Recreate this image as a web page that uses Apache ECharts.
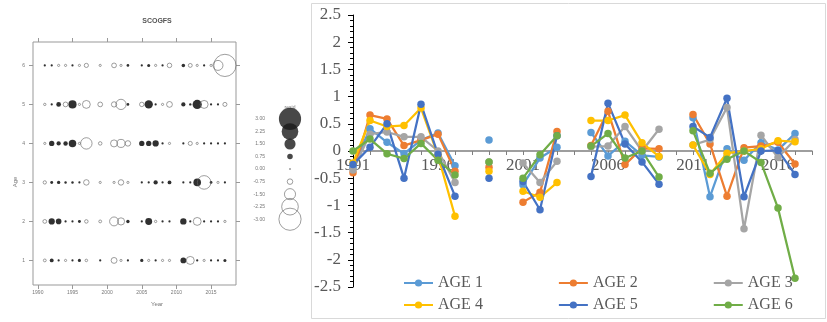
<!DOCTYPE html>
<html><head><meta charset="utf-8">
<script src="https://cdn.jsdelivr.net/npm/echarts@6/dist/echarts.min.js"></script>
<style>html,body{margin:0;padding:0;background:#fff}#c{width:827px;height:322px}</style>
</head><body><div id="c"></div>
<script>
// ---- data ----
const years = ['1991','1992','1993','1994','1995','1996','1997','1998','1999','2000','2001','2002','2003','2004','2005','2006','2007','2008','2009','2010','2011','2012','2013','2014','2015','2016','2017','2018'];
const age1 = [-0.30,0.41,0.16,-0.05,0.20,0.33,-0.27,null,0.20,null,-0.62,-0.13,0.07,null,0.34,-0.09,0.18,-0.08,-0.11,null,0.61,-0.84,0.04,-0.17,0.15,0.02,0.32];
const age2 = [-0.40,0.66,0.59,0.10,0.20,0.31,-0.37,null,-0.30,null,-0.94,-0.76,0.36,null,0.10,0.73,-0.25,0.05,0.04,null,0.67,0.13,-0.83,0.06,0.09,0.16,-0.24];
const age3 = [-0.35,0.31,0.35,0.26,0.26,0.00,-0.58,null,-0.20,null,-0.22,-0.58,-0.19,null,0.08,0.09,0.45,0.00,0.40,null,0.11,0.21,0.80,-1.43,0.29,-0.12,0.21];
const age4 = [-0.22,0.56,0.45,0.47,0.79,-0.08,-1.20,null,-0.37,null,-0.74,-0.85,-0.58,null,0.56,0.56,0.66,0.15,-0.10,null,0.11,-0.43,-0.04,0.00,0.04,0.19,0.17];
const age5 = [-0.25,0.07,0.50,-0.50,0.86,-0.06,-0.83,null,-0.50,null,-0.56,-1.08,0.28,null,-0.47,0.88,0.13,-0.20,-0.61,null,0.45,0.25,0.97,-0.84,0.00,0.01,-0.43];
const age6 = [0.00,0.22,-0.05,-0.14,0.14,-0.17,-0.44,null,-0.20,null,-0.50,-0.07,0.28,null,0.09,0.32,-0.13,0.00,-0.48,null,0.37,-0.41,-0.15,0.00,-0.21,-1.05,-2.34];
const seriesNames = ['AGE 1','AGE 2','AGE 3','AGE 4','AGE 5','AGE 6'];
const bubbleYearTicks = [1990,1995,2000,2005,2010,2015];
const ageTicks = [1,2,3,4,5,6];
const bubbleLegendVals = [3.00,2.25,1.50,0.75,0.00,-0.75,-1.50,-2.25,-3.00];

// ---- build ----
const all = [age1,age2,age3,age4,age5,age6];
const colors = ['#5B9BD5','#ED7D31','#A5A5A5','#FFC000','#4472C4','#70AD47'];
const pos = [], neg = [];
all.forEach((arr, a) => {
  arr.forEach((v, j) => {
    if (v === null) return;
    const p = [Number(years[j]), a + 1, v];
    if (v >= 0) pos.push(p); else neg.push(p);
  });
});
const legPos = bubbleLegendVals.filter(v => v >= 0).map(v => [0, v]);
const legNeg = bubbleLegendVals.filter(v => v < 0).map(v => [0, v]);
const bsize = d => Math.max(2.2, 9.5 * Math.abs(d[2]));
const lsize = d => Math.max(1.5, 7.4 * Math.abs(d[1]));
const serif = 'Liberation Serif';
const smallTxt = { fontFamily: 'Liberation Sans', fontSize: 5, color: '#777' };

const chart = echarts.init(document.getElementById('c'));
chart.setOption({
  animation: false,
  backgroundColor: '#fff',
  graphic: [
    { type: 'rect', shape: { x: 311.5, y: 3.5, width: 514, height: 315 }, style: { fill: 'none', stroke: '#d9d9d9', lineWidth: 1 }, silent: true },
    { type: 'text', x: 157, y: 21, style: { text: 'SCOGFS', font: 'bold 7px Liberation Sans', fill: '#555', align: 'center', verticalAlign: 'middle' } },
    { type: 'text', x: 157, y: 304, style: { text: 'Year', font: '6px Liberation Sans', fill: '#777', align: 'center', verticalAlign: 'middle' } },
    { type: 'text', x: 15, y: 182, rotation: Math.PI / 2, style: { text: 'Age', font: '6px Liberation Sans', fill: '#777', align: 'center', verticalAlign: 'middle' } },
    { type: 'text', x: 290, y: 108, style: { text: 'resid', font: '5px Liberation Sans', fill: '#777', align: 'center', verticalAlign: 'middle' } }
  ],
  grid: [
    { left: 33, top: 42, width: 203, height: 243, show: true, borderColor: '#999', borderWidth: 1, backgroundColor: 'transparent', outerBoundsMode: 'none' },
    { left: 353, top: 15, width: 459, height: 272, outerBoundsMode: 'none' },
    { left: 285, top: 110.6, width: 10, height: 117, outerBoundsMode: 'none' }
  ],
  xAxis: [
    { gridIndex: 0, type: 'value', min: 1989.3, max: 2018.6, axisLine: { show: false }, splitLine: { show: false },
      axisTick: { show: true, customValues: bubbleYearTicks, length: 4, lineStyle: { color: '#999' } },
      axisLabel: { customValues: bubbleYearTicks, formatter: v => String(v), margin: 5, ...smallTxt } },
    { gridIndex: 0, type: 'value', position: 'top', min: 1989.3, max: 2018.6, axisLine: { show: false }, splitLine: { show: false },
      axisTick: { show: true, customValues: bubbleYearTicks, length: 4, lineStyle: { color: '#999' } },
      axisLabel: { show: false } },
    { gridIndex: 1, type: 'category', data: years, boundaryGap: false, position: 'bottom', offset: -136,
      axisLine: { onZero: false, lineStyle: { color: '#7f7f7f', width: 1.5 } },
      axisTick: { show: true, interval: 0, length: 4, lineStyle: { color: '#7f7f7f' } },
      axisLabel: { interval: 4, margin: 6, fontFamily: serif, fontSize: 17, color: '#595959' },
      splitLine: { show: false } },
    { gridIndex: 2, type: 'category', data: ['k'], show: false }
  ],
  yAxis: [
    { gridIndex: 0, type: 'value', min: 0.37, max: 6.6, axisLine: { show: false }, splitLine: { show: false },
      axisTick: { show: true, customValues: ageTicks, length: 4, lineStyle: { color: '#999' } },
      axisLabel: { customValues: ageTicks, margin: 8, ...smallTxt } },
    { gridIndex: 0, type: 'value', position: 'right', min: 0.37, max: 6.6, axisLine: { show: false }, splitLine: { show: false },
      axisTick: { show: true, customValues: ageTicks, length: 4, lineStyle: { color: '#999' } },
      axisLabel: { show: false } },
    { gridIndex: 1, type: 'value', min: -2.5, max: 2.5, interval: 0.5, position: 'left',
      axisLine: { show: true, onZero: false, lineStyle: { color: '#000', width: 1 } },
      axisTick: { show: true, length: 5, lineStyle: { color: '#000' } },
      minorTick: { show: true, splitNumber: 5, length: 3, lineStyle: { color: '#000' } },
      splitLine: { show: false },
      axisLabel: { margin: 12, fontFamily: serif, fontSize: 17, color: '#595959' } },
    { gridIndex: 2, type: 'value', min: -3.5, max: 3.5, axisLine: { show: false }, axisTick: { show: false }, splitLine: { show: false },
      axisLabel: { customValues: bubbleLegendVals, formatter: v => v.toFixed(2), margin: 20, ...smallTxt } }
  ],
  legend: [
    { data: seriesNames.slice(0, 3), left: 398, top: 270, itemWidth: 29, itemHeight: 9, itemGap: 75,
      textStyle: { fontFamily: serif, fontSize: 16, color: '#595959' } },
    { data: seriesNames.slice(3, 6), left: 398, top: 292, itemWidth: 29, itemHeight: 9, itemGap: 75,
      textStyle: { fontFamily: serif, fontSize: 16, color: '#595959' } }
  ],
  series: [
    { type: 'scatter', xAxisIndex: 0, yAxisIndex: 0, data: pos, symbolSize: bsize, itemStyle: { color: '#1a1a1a', opacity: 0.9 } },
    { type: 'scatter', xAxisIndex: 0, yAxisIndex: 0, data: neg, symbolSize: bsize, itemStyle: { color: 'rgba(255,255,255,0)', borderColor: '#666', borderWidth: 0.8 } },
    { type: 'scatter', xAxisIndex: 3, yAxisIndex: 3, data: legPos, symbolSize: lsize, itemStyle: { color: '#1a1a1a' } },
    { type: 'scatter', xAxisIndex: 3, yAxisIndex: 3, data: legNeg, symbolSize: lsize, itemStyle: { color: 'rgba(255,255,255,0)', borderColor: '#666', borderWidth: 0.8 } },
    ...all.map((arr, i) => ({
      name: seriesNames[i], type: 'line', xAxisIndex: 2, yAxisIndex: 2, data: arr,
      symbol: 'circle', symbolSize: 7.5, showSymbol: true, connectNulls: false,
      color: colors[i], lineStyle: { width: 2.25, color: colors[i] }, itemStyle: { color: colors[i] }
    }))
  ]
});
</script>
</body></html>
